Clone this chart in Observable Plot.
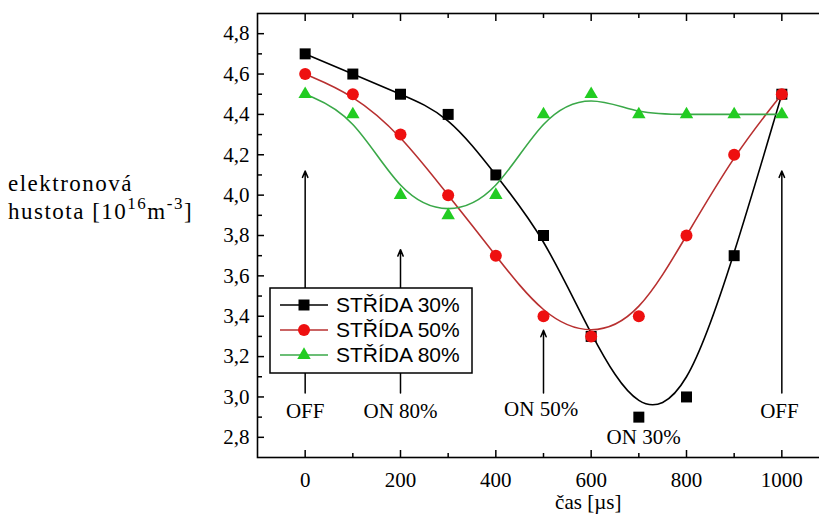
<!DOCTYPE html>
<html>
<head>
<meta charset="utf-8">
<script src="https://cdn.jsdelivr.net/npm/d3@7"></script>
<script src="https://cdn.jsdelivr.net/npm/@observablehq/plot@0.6"></script>
<style>
  html, body { margin: 0; padding: 0; background: #fff; overflow: hidden; }
  #chart { position: relative; width: 819px; height: 529px; overflow: hidden; }
</style>
</head>
<body>
<div id="chart"></div>
<script>
// Measured electron density over one pulse period, for three duty cycles
const time = [0, 100, 200, 300, 400, 500, 600, 700, 800, 900, 1000];
const duty30 = [4.7, 4.6, 4.5, 4.4, 4.1, 3.8, 3.3, 2.9, 3.0, 3.7, 4.5];
const duty50 = [4.6, 4.5, 4.3, 4.0, 3.7, 3.4, 3.3, 3.4, 3.8, 4.2, 4.5];
const duty80 = [4.5, 4.4, 4.0, 3.9, 4.0, 4.4, 4.5, 4.4, 4.4, 4.4, 4.4];
const seriesNames = ["STŘÍDA 30%", "STŘÍDA 50%", "STŘÍDA 80%"];

// Axis ticks
const xTicks = [0, 200, 400, 600, 800, 1000];
const xMinor = [100, 300, 500, 700, 900];
const yTicks = [2.8, 3.0, 3.2, 3.4, 3.6, 3.8, 4.0, 4.2, 4.4, 4.6, 4.8];
const yMinor = [2.9, 3.1, 3.3, 3.5, 3.7, 3.9, 4.1, 4.3, 4.5, 4.7];

// Switching moments (arrows) and their captions
const arrowX = [0, 200, 500, 1000];
const arrowTip = [4.12, 3.73, 3.33, 4.12];
const arrowBase = [3.02, 3.02, 3.02, 3.02];
const noteText = ["OFF", "ON 80%", "ON 50%", "ON 30%", "OFF"];
const noteX = [0, 200, 495, 710, 995];
const noteY = [2.93, 2.93, 2.94, 2.80, 2.93];

const colors = {
  line: ["#000000", "#b83030", "#3aa848"],
  mark: ["#000000", "#ee1010", "#22cc22"]
};
const symbols = ["square", "circle", "triangle"];
const radii = [6.2, 6, 5];

const series = [duty30, duty50, duty80].map((vals, k) =>
  time.map((t, i) => ({t, v: vals[i], k}))
);
const arrows = arrowX.map((x, i) => ({x, y1: arrowBase[i], y2: arrowTip[i]}));
const notes = noteText.map((text, i) => ({text, x: noteX[i], y: noteY[i]}));
const comma = d => d.toFixed(1).replace(".", ",");

const marks = [];
// axis tick labels
marks.push(Plot.axisX(xTicks, {anchor: "bottom", tickSize: 0, tickPadding: 15, tickFormat: d => String(d)}));
marks.push(Plot.axisY(yTicks, {anchor: "left", tickSize: 0, tickPadding: 8, tickFormat: comma}));
// inward tick marks on all visible sides
for (const anchor of ["bottom", "top"]) {
  marks.push(Plot.axisX(xTicks, {anchor, tickSize: -7, fill: "none", strokeWidth: 1.5}));
  marks.push(Plot.axisX(xMinor, {anchor, tickSize: -4, fill: "none", strokeWidth: 1.5}));
}
marks.push(Plot.axisY(yTicks, {anchor: "left", tickSize: -7, fill: "none", strokeWidth: 1.5}));
marks.push(Plot.axisY(yMinor, {anchor: "left", tickSize: -5, fill: "none", strokeWidth: 1.5}));

// annotation arrows and captions
marks.push(Plot.arrow(arrows, {x1: "x", x2: "x", y1: "y1", y2: "y2", stroke: "#000", strokeWidth: 1.5, headLength: 7, headAngle: 45}));
marks.push(Plot.text(notes, {x: "x", y: "y", text: "text", fill: "#000"}));

// smoothed curves with their markers, black drawn first
series.forEach((rows, k) => {
  marks.push(Plot.line(rows, {x: "t", y: "v", curve: "basis", stroke: colors.line[k], strokeWidth: 1.6}));
  marks.push(Plot.dot(rows, {x: "t", y: "v", symbol: symbols[k], r: radii[k], fill: colors.mark[k], stroke: "none"}));
});

marks.push(Plot.frame({stroke: "#000", strokeWidth: 1.6}));

const plot = Plot.plot({
  width: 830,
  height: 529,
  marginLeft: 257,
  marginRight: 1,
  marginTop: 13,
  marginBottom: 72,
  style: {maxWidth: "none", background: "#fff", color: "#000", fontFamily: "'Liberation Serif', 'Times New Roman', serif", fontSize: "21px"},
  x: {domain: [-100, 1100], label: null},
  y: {domain: [2.7, 4.9], label: null},
  marks
});
document.getElementById("chart").appendChild(plot);

const xs = plot.scale("x"), ys = plot.scale("y");
const svg = d3.select(plot);

// x axis title
svg.append("text")
  .attr("x", xs.apply(595))
  .attr("y", 509)
  .attr("text-anchor", "middle")
  .attr("font-size", 21)
  .attr("fill", "#000")
  .text("čas [µs]");

// y axis title with superscripts
const yTitle = svg.append("text").attr("font-size", 23).attr("fill", "#000")
  .attr("text-anchor", "start").attr("letter-spacing", 1.5);
yTitle.append("tspan").attr("x", 8).attr("y", 191).text("elektronová");
yTitle.append("tspan").attr("x", 8).attr("y", 219).text("hustota [10");
yTitle.append("tspan").attr("dy", -10).attr("font-size", 17).text("16");
yTitle.append("tspan").attr("dy", 10).text("m");
yTitle.append("tspan").attr("dy", -10).attr("font-size", 17).text("-3");
yTitle.append("tspan").attr("dy", 10).text("]");

// legend box
const lg = svg.append("g").attr("transform", "translate(270,288)");
lg.append("rect").attr("width", 202).attr("height", 85).attr("fill", "#fff").attr("stroke", "#000").attr("stroke-width", 1.5);
seriesNames.forEach((name, k) => {
  const cy = 17 + k * 25;
  lg.append("line").attr("x1", 10).attr("x2", 58).attr("y1", cy).attr("y2", cy)
    .attr("stroke", colors.line[k]).attr("stroke-width", 1.6);
  const sym = [d3.symbolSquare, d3.symbolCircle, d3.symbolTriangle][k];
  lg.append("path").attr("d", d3.symbol(sym, Math.PI * radii[k] * radii[k])())
    .attr("transform", `translate(34,${cy})`).attr("fill", colors.mark[k]);
  lg.append("text").attr("x", 66).attr("y", cy).attr("dy", "0.35em")
    .attr("text-anchor", "start")
    .attr("font-family", "'Liberation Sans', Arial, sans-serif").attr("font-size", 21)
    .attr("fill", "#000").text(name);
});
</script>
</body>
</html>
